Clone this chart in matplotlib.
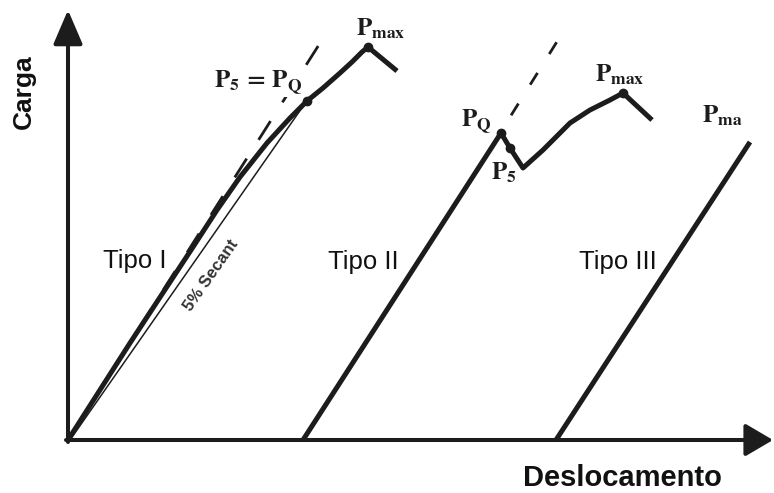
import matplotlib.pyplot as plt

# Load-displacement curves (pixel-like units, y grows downward)
origin = (68, 440)
axis_top = 10
axis_right = 773

# Tipo I: smooth curve up to Pmax then drop
tipo1_x = [68, 130, 193, 217, 240, 267, 290, 307, 323, 340, 352, 362, 368, 397]
tipo1_y = [440, 343, 247, 210, 177, 143, 118, 101, 88, 73, 62, 52, 47, 71]
tangent1_x = [68, 322]
tangent1_y = [440, 40]
secant_x = [70, 306]
secant_y = [440, 102]

# Tipo II: linear up to PQ, load drop to P5, then rise to Pmax
tipo2_x = [303, 501, 510, 523, 543, 570, 590, 610, 623, 652]
tipo2_y = [440, 133, 148, 168, 150, 123, 110, 100, 93, 120]
tangent2_x = [492, 558]
tangent2_y = [146, 40]

# Tipo III: linear to the edge
tipo3_x = [556, 750]
tipo3_y = [440, 142]

# Marked points
marks_x = [307, 368, 501, 510, 623]
marks_y = [101, 47, 133, 148, 93]

ink = '#1c1c1c'

plt.rcParams['mathtext.fontset'] = 'stix'

fig = plt.figure(figsize=(7.74, 4.93), dpi=100)
ax = fig.add_axes([0, 0, 1, 1])
ax.set_xlim(0, 774)
ax.set_ylim(493, 0)
ax.axis('off')

# Axes with arrowheads
ax.annotate('', xy=(origin[0], axis_top), xytext=(origin[0], origin[1] + 2),
            arrowprops=dict(arrowstyle='-|>,head_length=21,head_width=9',
                            mutation_scale=1, lw=2.9, color=ink,
                            shrinkA=0, shrinkB=0))
ax.annotate('', xy=(axis_right, origin[1]), xytext=(origin[0] - 2, origin[1]),
            arrowprops=dict(arrowstyle='-|>,head_length=17,head_width=10',
                            mutation_scale=1, lw=2.9, color=ink,
                            shrinkA=0, shrinkB=0))

# Tangent (dashed) lines
ax.plot(tangent1_x, tangent1_y, color=ink, lw=2.0, dashes=(8, 8), zorder=2)
ax.plot(tangent2_x, tangent2_y, color=ink, lw=2.0, dashes=(5, 8), zorder=2)

# 5% secant
ax.plot(secant_x, secant_y, color=ink, lw=1.1, zorder=3)

# Curves
for xs, ys in [(tipo1_x, tipo1_y), (tipo2_x, tipo2_y), (tipo3_x, tipo3_y)]:
    ax.plot(xs, ys, color=ink, lw=3.6, solid_capstyle='butt',
            solid_joinstyle='round', zorder=4)
ax.plot(marks_x, marks_y, 'o', color=ink, ms=6, zorder=5)

# Point labels
pfont = dict(fontsize=18, color=ink, ha='center', va='center', zorder=6)
ax.text(381, 29, r'$\mathbf{P}_{\mathbf{max}}$', **pfont)
ax.text(258, 82, r'$\mathbf{P}_{\mathbf{5}}\,\mathbf{=}\,\mathbf{P}_{\mathbf{Q}}$',
        bbox=dict(facecolor='white', edgecolor='none', pad=1), **pfont)
ax.text(476, 121, r'$\mathbf{P}_{\mathbf{Q}}$', **pfont)
ax.text(504, 173, r'$\mathbf{P}_{\mathbf{5}}$', **pfont)
ax.text(620, 75, r'$\mathbf{P}_{\mathbf{max}}$', **pfont)
# third label runs into the right edge
ax.text(702, 116, r'$\mathbf{P}_{\mathbf{ma}}$', ha='left', va='center',
        fontsize=18, color=ink, zorder=6)

# Type labels
tfont = dict(family='Liberation Sans', fontsize=18.5, color='#111111',
             ha='center', va='center')
ax.text(135, 261, 'Tipo I', **tfont)
ax.text(363, 262, 'Tipo II', **tfont)
ax.text(618, 262, 'Tipo III', **tfont)

ax.text(211, 275, '5% Secant', family='Liberation Sans', fontsize=12,
        fontweight='bold', color='#333333', rotation=55,
        ha='center', va='center')

# Axis titles
ax.text(24, 92, 'Carga', family='Liberation Sans', fontsize=19,
        fontweight='bold', color='#111111', rotation=90,
        ha='center', va='center')
ax.text(622, 478, 'Deslocamento', family='Liberation Sans', fontsize=21,
        fontweight='bold', color='#111111', ha='center', va='center')

fig.savefig('out.png', dpi=100)
